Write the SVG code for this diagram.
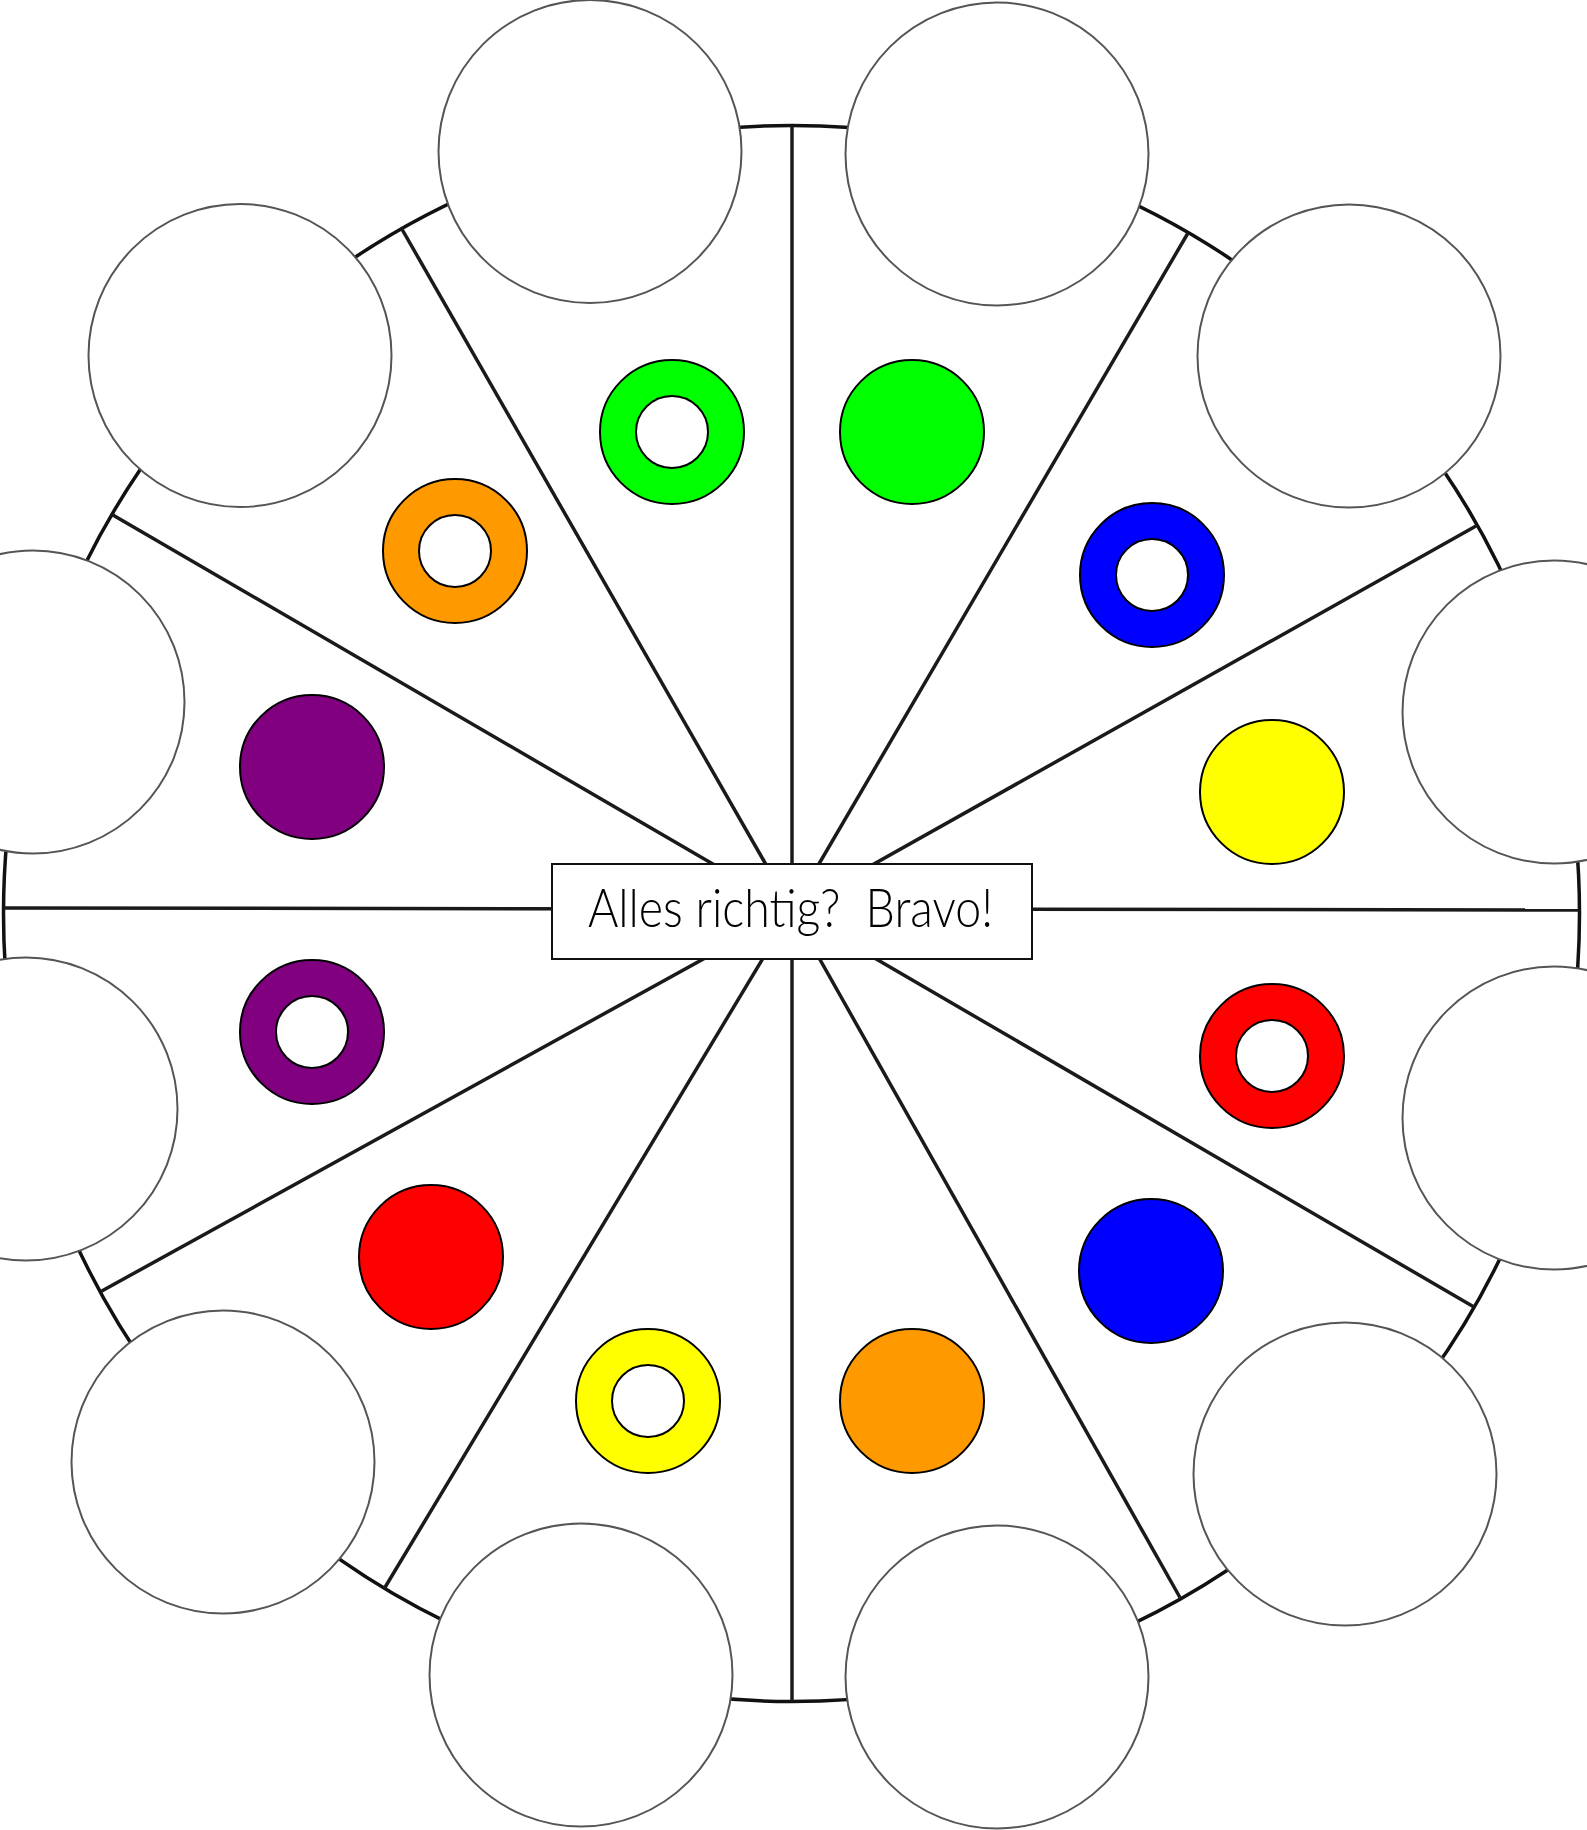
<svg xmlns="http://www.w3.org/2000/svg" width="1587" height="1830" viewBox="0 0 1587 1830">
<style>
.big{fill:none;stroke:#111;stroke-width:3.5}
.spoke{stroke:#1a1a1a;stroke-width:3.5;stroke-linecap:butt}
.small{fill:#fff;stroke:#555;stroke-width:2}
.dot{stroke:#000;stroke-width:2}
.hole{fill:#fff;stroke:#000;stroke-width:2}
.box{fill:#fff;stroke:#111;stroke-width:2}
.label{font-family:Lato,"Liberation Sans",sans-serif;font-weight:300;font-size:54px;fill:#000;white-space:pre}
</style>
<rect width="1587" height="1830" fill="#fff"/>
<g id="wheel">
<circle class="big" cx="791.5" cy="913.5" r="788"/>
</g>
<g id="connectors">
<line class="spoke" x1="792" y1="910" x2="792" y2="126"/>
<line class="spoke" x1="792" y1="910" x2="792" y2="1701"/>
<line class="spoke" x1="792" y1="909" x2="3.5" y2="908"/>
<line class="spoke" x1="792" y1="909" x2="1579" y2="910"/>
<line class="spoke" x1="792" y1="910" x2="401" y2="227.5"/>
<line class="spoke" x1="792" y1="910" x2="1188" y2="233"/>
<line class="spoke" x1="792" y1="910" x2="112" y2="514.5"/>
<line class="spoke" x1="792" y1="910" x2="1476" y2="526"/>
<line class="spoke" x1="792" y1="910" x2="100" y2="1292"/>
<line class="spoke" x1="792" y1="910" x2="1474" y2="1307"/>
<line class="spoke" x1="792" y1="910" x2="384" y2="1589"/>
<line class="spoke" x1="792" y1="910" x2="1180" y2="1597.5"/>
</g>
<g id="slots">
<circle id="s1" class="small" cx="590" cy="151.5" r="151.5"/>
<circle id="s2" class="small" cx="997" cy="154" r="151.5"/>
<circle id="s3" class="small" cx="240" cy="355.5" r="151.5"/>
<circle id="s4" class="small" cx="1349" cy="356" r="151.5"/>
<circle id="s5" class="small" cx="33" cy="702" r="151.5"/>
<circle id="s6" class="small" cx="1554" cy="712" r="151.5"/>
<circle id="s7" class="small" cx="26" cy="1109" r="151.5"/>
<circle id="s8" class="small" cx="1554" cy="1118" r="151.5"/>
<circle id="s9" class="small" cx="223" cy="1462" r="151.5"/>
<circle id="s10" class="small" cx="1345" cy="1474" r="151.5"/>
<circle id="s11" class="small" cx="581" cy="1675" r="151.5"/>
<circle id="s12" class="small" cx="997" cy="1677" r="151.5"/>
</g>
<g id="dots">
<g id="d-green-ring"><circle class="dot" cx="672" cy="432" r="72" fill="#00ff00"/><circle class="hole" cx="672" cy="432" r="36"/></g>
<g id="d-green"><circle class="dot" cx="912" cy="432" r="72" fill="#00ff00"/></g>
<g id="d-blue-ring"><circle class="dot" cx="1152" cy="575" r="72" fill="#0000ff"/><circle class="hole" cx="1152" cy="575" r="36"/></g>
<g id="d-yellow"><circle class="dot" cx="1272" cy="792" r="72" fill="#ffff00"/></g>
<g id="d-red-ring"><circle class="dot" cx="1272" cy="1056" r="72" fill="#ff0000"/><circle class="hole" cx="1272" cy="1056" r="36"/></g>
<g id="d-blue"><circle class="dot" cx="1151" cy="1271" r="72" fill="#0000ff"/></g>
<g id="d-orange"><circle class="dot" cx="912" cy="1401" r="72" fill="#ff9900"/></g>
<g id="d-yellow-ring"><circle class="dot" cx="648" cy="1401" r="72" fill="#ffff00"/><circle class="hole" cx="648" cy="1401" r="36"/></g>
<g id="d-red"><circle class="dot" cx="431" cy="1257" r="72" fill="#ff0000"/></g>
<g id="d-purple-ring"><circle class="dot" cx="312" cy="1032" r="72" fill="#800080"/><circle class="hole" cx="312" cy="1032" r="36"/></g>
<g id="d-purple"><circle class="dot" cx="312" cy="767" r="72" fill="#800080"/></g>
<g id="d-orange-ring"><circle class="dot" cx="455" cy="551" r="72" fill="#ff9900"/><circle class="hole" cx="455" cy="551" r="36"/></g>
</g>
<g id="center-label">
<rect class="box" x="552" y="864" width="480" height="95"/>
<text class="label" x="588" y="927" textLength="405" lengthAdjust="spacingAndGlyphs">Alles richtig?  Bravo!</text>
</g>
</svg>
